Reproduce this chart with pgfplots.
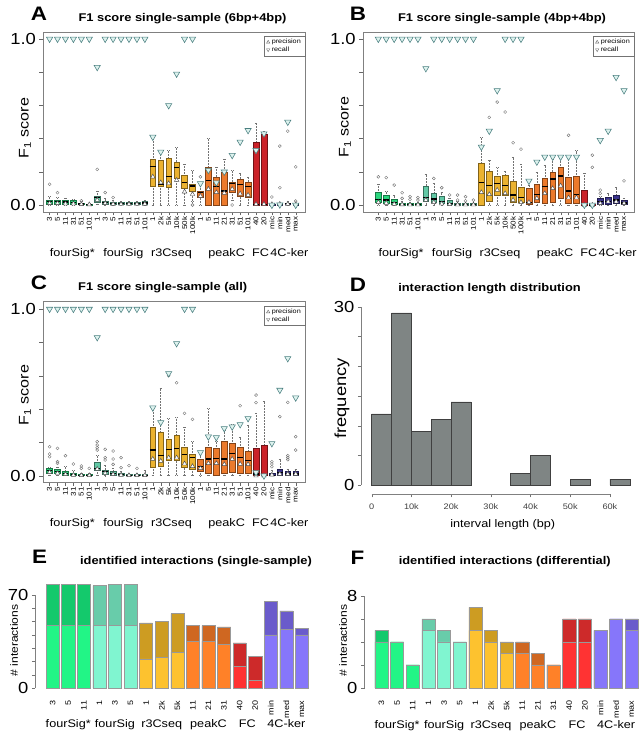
\documentclass[border=0pt]{standalone}
\usepackage{fontspec}
\setmainfont{Liberation Sans}[FakeStretch=1.15]
\usepackage{pgfplots}
\usepackage{pgfplotstable}
\pgfplotsset{compat=1.18}
\usepgfplotslibrary{statistics}

\definecolor{cG}{HTML}{2BD67E}
\definecolor{cT}{HTML}{62C9A6}
\definecolor{cY}{HTML}{EBB22F}
\definecolor{cO}{HTML}{EC7A2C}
\definecolor{cR}{HTML}{CB2229}
\definecolor{cP}{HTML}{3B3490}
\definecolor{recfill}{HTML}{DDF2EE}
\definecolor{recdraw}{HTML}{4A7F80}
\definecolor{histgray}{HTML}{7F8584}
\definecolor{gL}{HTML}{22F586}\definecolor{gD}{HTML}{14C96C}
\definecolor{tL}{HTML}{80F5D0}\definecolor{tD}{HTML}{68CCAA}
\definecolor{yL}{HTML}{FDC22F}\definecolor{yD}{HTML}{CD9C22}
\definecolor{oL}{HTML}{FF8128}\definecolor{oD}{HTML}{CF6721}
\definecolor{rL}{HTML}{FF3333}\definecolor{rD}{HTML}{CD2A2A}
\definecolor{pL}{HTML}{8676FA}\definecolor{pD}{HTML}{6A5BCB}

\newcommand{\bx}[7]{\addplot[forget plot, black, boxplot/draw direction=y, boxplot prepared={draw position=#1, lower whisker=#2, lower quartile=#3, median=#4, upper quartile=#5, upper whisker=#6, box extend=0.72, whisker extend=0.3, every box/.style={draw=#7!55!black, fill=#7, line width=0.5pt}, every whisker/.style={densely dotted, black!55, line width=0.5pt}, every median/.style={black, line width=1.2pt}}] coordinates {};}

\pgfplotsset{
  bpaxis/.style={anchor=south west, scale only axis, clip=false,
    boxplot/draw direction=y,
    axis line style={black!50}, tick align=outside, major tick length=3.5pt,
    tick style={black!60}, tick pos=left,
    xtick={1,...,32},
    xticklabels={3,5,11,31,51,101,1,3,5,11,31,51,101,1,2k,5k,10k,50k,100k,1,5,11,21,31,51,101,40,20,mic,min,med,max},
    xticklabel style={rotate=90, anchor=east, font=\fontsize{7}{8}\selectfont, inner sep=1pt},
    ytick={0,0.2,0.4,0.6,0.8,1}, yticklabels={0.0,,,,,1.0},
    yticklabel style={font=\fontsize{16}{18}\selectfont},
    /pgf/number format/assume math mode=true,
    legend cell align=left,
    legend style={at={(1,0.978)}, anchor=north east, draw=black!55, fill=white,
      font=\fontsize{6.3}{7}\selectfont, inner xsep=2pt, inner ysep=1pt, row sep=-2.5pt}},
  prec/.style={only marks, mark=triangle*, mark size=2.6pt,
    mark options={fill=white, draw=black!70, line width=0.45pt},
    legend image code/.code={\draw[black!60, mark=triangle, mark size=1.9pt, mark options={line width=0.4pt}] plot coordinates {(0.12cm,0cm)};}},
  rec/.style={only marks, mark=triangle*, mark size=3.6pt,
    mark options={rotate=180, fill=recfill, draw=recdraw, line width=0.55pt},
    legend image code/.code={\draw[black!60, mark=triangle, mark size=1.9pt, mark options={rotate=180, line width=0.4pt}] plot coordinates {(0.12cm,0cm)};}},
  outl/.style={forget plot, only marks, mark=o, mark size=1.5pt, black!55, mark options={line width=0.4pt}},
  bars/.style={ybar, bar width=0.84, bar shift=0pt, draw=black!40, line width=0.5pt},
  baraxis/.style={anchor=south west, scale only axis, clip=false,
    axis line style={draw=none}, tick pos=left, x tick style={draw=none},
    tick align=outside, major tick length=3.5pt, y tick style={black!55},
    xtick={1,...,17},
    xticklabels={3,5,11,1,3,5,1,2k,5k,11,21,31,40,20,min,med,max},
    xticklabel style={rotate=90, anchor=east, font=\fontsize{7.8}{9}\selectfont, inner sep=1pt},
    xticklabel shift=8pt,
    yticklabel style={font=\fontsize{16}{18}\selectfont},
    /pgf/number format/assume math mode=true}
}

\newcommand{\grouplabelsBP}[1]{%
  \node[anchor=base, font=\fontsize{11}{12}\selectfont] at (axis cs:3.87,#1) {fourSig*};
  \node[anchor=base, font=\fontsize{11}{12}\selectfont] at (axis cs:10.3,#1) {fourSig};
  \node[anchor=base, font=\fontsize{11}{12}\selectfont] at (axis cs:16.35,#1) {r3Cseq};
  \node[anchor=base, font=\fontsize{11}{12}\selectfont] at (axis cs:23.3,#1) {peakC};
  \node[anchor=base, font=\fontsize{11}{12}\selectfont] at (axis cs:27.57,#1) {FC};
  \node[anchor=base, font=\fontsize{11}{12}\selectfont] at (axis cs:31.2,#1) {4C-ker};}
\newcommand{\grouplabelsBar}[1]{%
  \node[anchor=base, font=\fontsize{11}{12}\selectfont] at (axis cs:2,#1) {fourSig*};
  \node[anchor=base, font=\fontsize{11}{12}\selectfont] at (axis cs:5,#1) {fourSig};
  \node[anchor=base, font=\fontsize{11}{12}\selectfont] at (axis cs:8,#1) {r3Cseq};
  \node[anchor=base, font=\fontsize{11}{12}\selectfont] at (axis cs:11,#1) {peakC};
  \node[anchor=base, font=\fontsize{11}{12}\selectfont] at (axis cs:13.5,#1) {FC};
  \node[anchor=base, font=\fontsize{11}{12}\selectfont] at (axis cs:16,#1) {4C-ker};}

% precision / recall per method
\pgfplotstableread{
x prec rec
1 0.01 1
2 0.01 1
3 0.008 1
4 0.008 1
5 0.004 1
6 0.003 1
7 0.03 0.83
8 0.01 1
9 0.006 1
10 0.005 1
11 0.005 1
12 0.005 1
13 0.006 1
14 0.17 0.41
15 0.135 0.32
16 0.13 0.6
17 0.15 0.79
18 0.08 1
19 0.065 1
20 0.054 0.13
21 0.096 0.21
22 0.076 0.135
23 0.072 0.2
24 0.096 0.30
25 0.068 0.38
26 0.06 0.45
27 0.005 0.33
28 0.005 0.43
29 0.004 0.0
30 0.006 0.002
31 0.006 0.5
32 0.004 0.0
}\prA
\pgfplotstableread{
x y
1 0.125
2 0.075
5 0.025
7 0.215
8 0.075
9 0.045
19 0.0
20 0.17
24 0.0
29 0.048
30 0.355
30 0.104
31 0.445
32 0.23
32 0.024
}\outA
\pgfplotstableread{
x prec rec
1 0.016 1
2 0.012 1
3 0.006 1
4 0.003 1
5 0.002 1
6 0.002 1
7 0.03 0.823
8 0.016 1
9 0.008 1
10 0.004 1
11 0.002 1
12 0.002 1
13 0.002 1
14 0.076 0.35
15 0.064 0.446
16 0.09 0.69
17 0.07 1
18 0.03 1
19 0.016 1
20 0.016 0.145
21 0.04 0.26
22 0.07 0.29
23 0.1 0.29
24 0.116 0.29
25 0.044 0.29
26 0.044 0.29
27 0.0 0.0
28 0.0 0.0
29 0.01 0.39
30 0.02 0.446
31 0.02 0.77
32 0.01 0.69
}\prB
\pgfplotstableread{
x y
1 0.17
2 0.165
3 0.12
4 0.074
4 0.04
5 0.05
5 0.034
6 0.045
6 0.03
8 0.16
9 0.104
10 0.06
11 0.06
11 0.03
12 0.05
12 0.025
13 0.03
15 0.528
16 0.62
17 0.56
18 0.375
19 0.337
25 0.42
28 0.3
28 0.227
29 0.09
29 0.07
32 0.145
}\outB
\pgfplotstableread{
x prec rec
1 0.02 1
2 0.015 1
3 0.008 1
4 0.004 1
5 0.002 1
6 0.002 1
7 0.04 0.83
8 0.015 1
9 0.008 1
10 0.004 1
11 0.002 1
12 0.002 1
13 0.002 1
14 0.1 0.408
15 0.088 0.32
16 0.108 0.614
17 0.108 0.794
18 0.072 1
19 0.056 1
20 0.044 0.14
21 0.074 0.234
22 0.074 0.23
23 0.068 0.284
24 0.1 0.294
25 0.07 0.308
26 0.068 0.344
27 0.0 0.02
28 0.0 0.0
29 0.005 0.194
30 0.01 0.514
31 0.01 0.704
32 0.01 0.468
}\prC
\pgfplotstableread{
x y
1 0.174
1 0.13
1 0.114
2 0.164
2 0.084
2 0.074
3 0.12
4 0.07
5 0.058
5 0.044
6 0.044
7 0.204
7 0.184
7 0.168
7 0.154
8 0.158
8 0.108
8 0.094
9 0.148
9 0.1
9 0.068
10 0.108
10 0.048
11 0.06
12 0.044
16 0.6
17 0.558
18 0.374
19 0.338
25 0.42
27 0.484
27 0.438
29 0.084
29 0.07
29 0.054
30 0.354
31 0.12
31 0.108
31 0.096
31 0.44
32 0.234
32 0.154
}\outC

\begin{document}
\begin{tikzpicture}
\useasboundingbox (0pt,0pt) rectangle (643pt,735pt);

% ---------- panel labels and titles ----------
\node[anchor=base, font=\fontsize{19.5}{20}\bfseries] at (39pt,714.3pt) {A};
\node[anchor=base, font=\fontsize{11.2}{13}\bfseries] at (182.5pt,713pt) {F1 score single-sample (6bp+4bp)};
\node[anchor=base, font=\fontsize{19.5}{20}\bfseries] at (358pt,714.3pt) {B};
\node[anchor=base, font=\fontsize{11.2}{13}\bfseries] at (502pt,713pt) {F1 score single-sample (4bp+4bp)};
\node[anchor=base, font=\fontsize{19.5}{20}\bfseries] at (39pt,445pt) {C};
\node[anchor=base, font=\fontsize{11.2}{13}\bfseries] at (162.7pt,444.3pt) {F1 score single-sample (all)};
\node[anchor=base, font=\fontsize{19.5}{20}\bfseries] at (358pt,443.3pt) {D};
\node[anchor=base, font=\fontsize{11.2}{13}\bfseries] at (489.5pt,443.5pt) {interaction length distribution};
\node[anchor=base, font=\fontsize{19.5}{20}\bfseries] at (39.5pt,171pt) {E};
\node[anchor=base, font=\fontsize{11.2}{13}\bfseries] at (196pt,170.5pt) {identified interactions (single-sample)};
\node[anchor=base, font=\fontsize{19.5}{20}\bfseries] at (357.5pt,170pt) {F};
\node[anchor=base, font=\fontsize{11.2}{13}\bfseries] at (504.7pt,170.5pt) {identified interactions (differential)};

% y labels
\node[rotate=90, font=\fontsize{14}{16}\selectfont] at (25pt,607pt) {F\textsubscript{1} score};
\node[rotate=90, font=\fontsize{14}{16}\selectfont] at (345pt,608pt) {F\textsubscript{1} score};
\node[rotate=90, font=\fontsize{14}{16}\selectfont] at (25pt,340pt) {F\textsubscript{1} score};
\node[rotate=90, font=\fontsize{16}{18}\selectfont] at (342pt,336.5pt) {frequency};
\node[rotate=90, font=\fontsize{10.5}{12}\selectfont] at (14pt,94.5pt) {\# interactions};
\node[rotate=90, font=\fontsize{10.5}{12}\selectfont] at (343pt,94.5pt) {\# interactions};

% ================= A =================
\begin{axis}[bpaxis, at={(43pt,523pt)}, width=262pt, height=180pt,
  xmin=0.17, xmax=33.17, ymin=-0.042, ymax=1.042]
\bx{1}{0}{0.005}{0.02}{0.03}{0.05}{cG}
\bx{2}{0}{0.005}{0.02}{0.03}{0.045}{cG}
\bx{3}{0}{0.004}{0.018}{0.028}{0.04}{cG}
\bx{4}{0}{0.004}{0.016}{0.026}{0.035}{cG}
\bx{5}{0}{0.002}{0.006}{0.012}{0.02}{cG}
\bx{6}{0}{0.001}{0.003}{0.006}{0.01}{cG}
\bx{7}{0.005}{0.016}{0.045}{0.054}{0.085}{cT}
\bx{8}{0}{0.005}{0.015}{0.025}{0.04}{cT}
\bx{9}{0}{0.004}{0.01}{0.018}{0.03}{cT}
\bx{10}{0}{0.003}{0.01}{0.016}{0.025}{cT}
\bx{11}{0}{0.003}{0.01}{0.016}{0.025}{cT}
\bx{12}{0}{0.003}{0.01}{0.016}{0.025}{cT}
\bx{13}{0}{0.004}{0.012}{0.02}{0.028}{cT}
\bx{14}{0}{0.114}{0.233}{0.277}{0.41}{cY}
\bx{15}{0}{0.114}{0.125}{0.27}{0.33}{cY}
\bx{16}{0}{0.104}{0.17}{0.28}{0.33}{cY}
\bx{17}{0}{0.16}{0.225}{0.26}{0.345}{cY}
\bx{18}{0}{0.10}{0.137}{0.18}{0.245}{cY}
\bx{19}{0.02}{0.084}{0.115}{0.125}{0.207}{cY}
\bx{20}{0}{0.044}{0.076}{0.084}{0.13}{cO}
\bx{21}{0}{0}{0.15}{0.225}{0.405}{cO}
\bx{22}{0}{0}{0.11}{0.17}{0.23}{cO}
\bx{23}{0}{0}{0.084}{0.2}{0.275}{cO}
\bx{24}{0.03}{0.076}{0.13}{0.14}{0.21}{cO}
\bx{25}{0}{0.05}{0.125}{0.157}{0.19}{cO}
\bx{26}{0}{0.048}{0.11}{0.14}{0.165}{cO}
\bx{27}{0}{0}{0.003}{0.375}{0.49}{cR}
\bx{28}{0}{0}{0.003}{0.425}{0.445}{cR}
\bx{29}{0}{0}{0.002}{0.005}{0.008}{cP}
\bx{30}{0}{0}{0.003}{0.008}{0.012}{cP}
\bx{31}{0}{0.003}{0.008}{0.012}{0.02}{cP}
\bx{32}{0}{0}{0.002}{0.005}{0.008}{cP}
\addplot[outl] table[x=x,y=y]{\outA};
\addplot[prec] table[x=x,y=prec]{\prA}; \addlegendentry{precision}
\addplot[rec] table[x=x,y=rec]{\prA}; \addlegendentry{recall}
\grouplabelsBP{-0.311}
\end{axis}

% ================= B =================
\begin{axis}[bpaxis, at={(362.7pt,523pt)}, width=271.3pt, height=180pt,
  xmin=-0.97, xmax=33.26, ymin=-0.042, ymax=1.042]
\bx{1}{0}{0.016}{0.034}{0.076}{0.125}{cG}
\bx{2}{0}{0.01}{0.03}{0.06}{0.085}{cG}
\bx{3}{0}{0.004}{0.015}{0.034}{0.056}{cG}
\bx{4}{0}{0}{0.004}{0.01}{0.02}{cG}
\bx{5}{0}{0}{0.003}{0.008}{0.015}{cG}
\bx{6}{0}{0}{0.003}{0.008}{0.015}{cG}
\bx{7}{0}{0.024}{0.044}{0.116}{0.185}{cT}
\bx{8}{0}{0.016}{0.036}{0.068}{0.13}{cT}
\bx{9}{0}{0.008}{0.02}{0.052}{0.076}{cT}
\bx{10}{0}{0.003}{0.01}{0.028}{0.04}{cT}
\bx{11}{0}{0}{0.004}{0.01}{0.02}{cT}
\bx{12}{0}{0}{0.003}{0.008}{0.012}{cT}
\bx{13}{0}{0}{0.003}{0.008}{0.012}{cT}
\bx{14}{0}{0}{0.135}{0.25}{0.41}{cY}
\bx{15}{0}{0.024}{0.116}{0.205}{0.27}{cY}
\bx{16}{0}{0.06}{0.13}{0.173}{0.225}{cY}
\bx{17}{0}{0.06}{0.116}{0.177}{0.205}{cY}
\bx{18}{0}{0.016}{0.06}{0.145}{0.29}{cY}
\bx{19}{0}{0.016}{0.044}{0.108}{0.245}{cY}
\bx{20}{0}{0.004}{0.016}{0.1}{0.12}{cO}
\bx{21}{0}{0.016}{0.064}{0.124}{0.2}{cO}
\bx{22}{0}{0.01}{0.11}{0.16}{0.237}{cO}
\bx{23}{0}{0.016}{0.157}{0.2}{0.275}{cO}
\bx{24}{0}{0.04}{0.175}{0.227}{0.28}{cO}
\bx{25}{0}{0.01}{0.084}{0.167}{0.287}{cO}
\bx{26}{0}{0.01}{0.064}{0.173}{0.327}{cO}
\bx{27}{0}{0}{0.003}{0.088}{0.19}{cR}
\bx{28}{0}{0}{0}{0.002}{0.004}{cR}
\bx{29}{0}{0.004}{0.02}{0.04}{0.05}{cP}
\bx{30}{0}{0.004}{0.02}{0.048}{0.07}{cP}
\bx{31}{0}{0.008}{0.03}{0.056}{0.11}{cP}
\bx{32}{0}{0.004}{0.012}{0.03}{0.04}{cP}
\addplot[outl] table[x=x,y=y]{\outB};
\addplot[prec] table[x=x,y=prec]{\prB}; \addlegendentry{precision}
\addplot[rec] table[x=x,y=rec]{\prB}; \addlegendentry{recall}
\grouplabelsBP{-0.311}
\end{axis}

% ================= C =================
\begin{axis}[bpaxis, at={(43pt,252.3pt)}, width=262pt, height=181pt,
  xmin=0.17, xmax=33.17, ymin=-0.042, ymax=1.044]
\bx{1}{0}{0.016}{0.03}{0.044}{0.05}{cG}
\bx{2}{0}{0.014}{0.025}{0.04}{0.05}{cG}
\bx{3}{0}{0.004}{0.012}{0.025}{0.055}{cG}
\bx{4}{0}{0}{0.005}{0.015}{0.03}{cG}
\bx{5}{0}{0}{0.003}{0.008}{0.015}{cG}
\bx{6}{0}{0}{0.003}{0.008}{0.015}{cG}
\bx{7}{0}{0.032}{0.044}{0.08}{0.12}{cT}
\bx{8}{0}{0.01}{0.025}{0.035}{0.06}{cT}
\bx{9}{0}{0.004}{0.012}{0.025}{0.045}{cT}
\bx{10}{0}{0}{0.005}{0.012}{0.025}{cT}
\bx{11}{0}{0}{0.003}{0.008}{0.015}{cT}
\bx{12}{0}{0}{0.003}{0.008}{0.012}{cT}
\bx{13}{0}{0}{0.003}{0.008}{0.035}{cT}
\bx{14}{0}{0.05}{0.154}{0.29}{0.40}{cY}
\bx{15}{0}{0.058}{0.12}{0.258}{0.524}{cY}
\bx{16}{0}{0.094}{0.158}{0.218}{0.344}{cY}
\bx{17}{0}{0.09}{0.164}{0.24}{0.348}{cY}
\bx{18}{0}{0.048}{0.128}{0.172}{0.29}{cY}
\bx{19}{0}{0.04}{0.108}{0.128}{0.204}{cY}
\bx{20}{0}{0.028}{0.054}{0.1}{0.144}{cO}
\bx{21}{0}{0.014}{0.1}{0.17}{0.404}{cO}
\bx{22}{0}{0.004}{0.104}{0.164}{0.204}{cO}
\bx{23}{0}{0.014}{0.1}{0.208}{0.274}{cO}
\bx{24}{0}{0.02}{0.134}{0.194}{0.308}{cO}
\bx{25}{0}{0.014}{0.108}{0.17}{0.228}{cO}
\bx{26}{0}{0.014}{0.092}{0.144}{0.304}{cO}
\bx{27}{0}{0}{0.01}{0.164}{0.374}{cR}
\bx{28}{0}{0}{0.005}{0.18}{0.448}{cR}
\bx{29}{0}{0}{0.003}{0.015}{0.03}{cP}
\bx{30}{0}{0.004}{0.02}{0.04}{0.1}{cP}
\bx{31}{0}{0.003}{0.01}{0.025}{0.04}{cP}
\bx{32}{0}{0.003}{0.01}{0.025}{0.04}{cP}
\addplot[outl] table[x=x,y=y]{\outC};
\addplot[prec] table[x=x,y=prec]{\prC}; \addlegendentry{precision}
\addplot[rec] table[x=x,y=rec]{\prC}; \addlegendentry{recall}
\grouplabelsBP{-0.307}
\end{axis}

% ================= D =================
\begin{axis}[anchor=south west, scale only axis, clip=false,
  at={(361.4pt,241pt)}, width=278.7pt, height=194.3pt,
  xmin=-2600, xmax=67600, ymin=-1.5, ymax=31.2,
  axis line style={draw=none}, tick pos=left, tick align=outside,
  major tick length=3.5pt, tick style={black!55}, scaled ticks=false,
  xtick={0,10000,20000,30000,40000,50000,60000},
  xticklabels={0,10k,20k,30k,40k,50k,60k},
  xticklabel style={font=\fontsize{8}{9}\selectfont, text=black!75},
  xticklabel shift=3pt,
  ytick={0,5,10,15,20,25,30}, yticklabels={0,,,,,,30},
  yticklabel style={font=\fontsize{16}{18}\selectfont},
  /pgf/number format/assume math mode=true]
\addplot[ybar, bar width=5000, bar shift=0pt, fill=histgray, draw=black!75, line width=0.5pt]
  coordinates {(2500,12) (7500,29) (12500,9) (17500,11) (22500,14) (37500,2) (42500,5) (52500,1) (62500,1)};
\draw[black!50] (axis cs:0,-1.5) -- (axis cs:60000,-1.5);
\draw[black!50] (axis cs:-2600,0) -- (axis cs:-2600,30);
\node[anchor=base, font=\fontsize{11}{12}\selectfont] at (axis cs:33000,-7.1) {interval length (bp)};
\end{axis}

% ================= E =================
\begin{axis}[baraxis, at={(35.5pt,47pt)}, width=283.6pt, height=106.3pt,
  xmin=-0.101, xmax=18.10, ymin=0, ymax=80,
  ytick={0,10,20,30,40,50,60,70}, yticklabels={0,,,,,,,70}]
\addplot[bars, fill=gD] coordinates {(1,78) (2,78) (3,78)};
\addplot[bars, fill=gL] coordinates {(1,47) (2,47) (3,47)};
\addplot[bars, fill=tD] coordinates {(4,77) (5,78) (6,78)};
\addplot[bars, fill=tL] coordinates {(4,47) (5,47) (6,47)};
\addplot[bars, fill=yD] coordinates {(7,49) (8,50) (9,56)};
\addplot[bars, fill=yL] coordinates {(7,22) (8,23) (9,27)};
\addplot[bars, fill=oD] coordinates {(10,47) (11,47) (12,46)};
\addplot[bars, fill=oL] coordinates {(10,35) (11,35) (12,33)};
\addplot[bars, fill=rD] coordinates {(13,34) (14,24)};
\addplot[bars, fill=rL] coordinates {(13,16) (14,6)};
\addplot[bars, fill=pD] coordinates {(15,65) (16,58) (17,45)};
\addplot[bars, fill=pL] coordinates {(15,40) (16,44) (17,40)};
\draw[black!50] (axis cs:-0.101,0) -- (axis cs:-0.101,70);
\grouplabelsBar{-30.1}
\end{axis}

% ================= F =================
\begin{axis}[baraxis, at={(364.5pt,47pt)}, width=278.5pt, height=98.9pt,
  xmin=-0.087, xmax=17.72, ymin=0, ymax=8.6,
  ytick={0,2,4,6,8}, yticklabels={0,,,,8}]
\addplot[bars, fill=gD] coordinates {(1,5) (2,4) (3,2)};
\addplot[bars, fill=gL] coordinates {(1,4) (2,4) (3,2)};
\addplot[bars, fill=tD] coordinates {(4,6) (5,5) (6,4)};
\addplot[bars, fill=tL] coordinates {(4,5) (5,4) (6,4)};
\addplot[bars, fill=yD] coordinates {(7,7) (8,5) (9,4)};
\addplot[bars, fill=yL] coordinates {(7,5) (8,4) (9,3)};
\addplot[bars, fill=oD] coordinates {(10,4) (11,3) (12,2)};
\addplot[bars, fill=oL] coordinates {(10,3) (11,2) (12,2)};
\addplot[bars, fill=rD] coordinates {(13,6) (14,6)};
\addplot[bars, fill=rL] coordinates {(13,4) (14,4)};
\addplot[bars, fill=pD] coordinates {(15,5) (16,6) (17,6)};
\addplot[bars, fill=pL] coordinates {(15,5) (16,6) (17,5)};
\draw[black!50] (axis cs:-0.087,0) -- (axis cs:-0.087,8);
\grouplabelsBar{-3.48}
\end{axis}
\end{tikzpicture}
\end{document}
